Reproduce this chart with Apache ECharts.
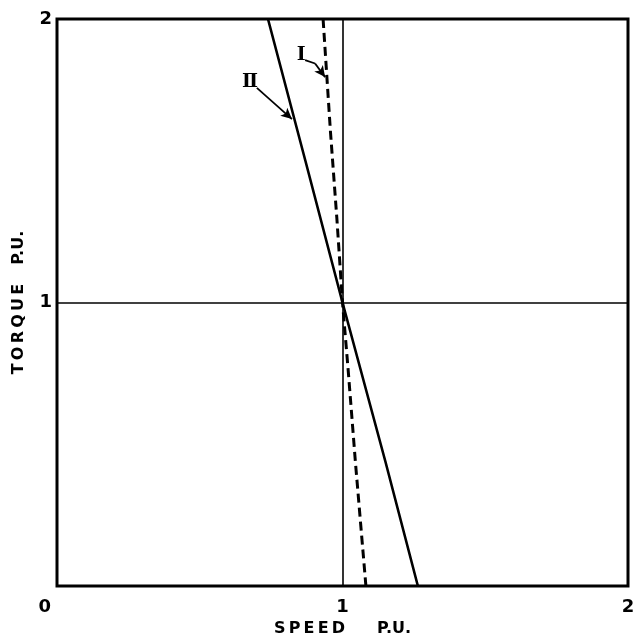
<!DOCTYPE html>
<html>
<head>
<meta charset="utf-8">
<script src="https://cdn.jsdelivr.net/npm/echarts@6/dist/echarts.min.js"></script>
<style>
  html, body { margin: 0; padding: 0; background: #fff; }
  #chart { width: 644px; height: 642px; }
</style>
</head>
<body>
<div id="chart"></div>
<script>
// Speed (p.u.) / torque (p.u.) characteristics
const curveISpeed  = [0.932, 0.958, 0.980, 1.000, 1.020, 1.045, 1.082];
const curveITorque = [2.0,   1.6,   1.3,   1.0,   0.76,  0.44,  0.0];
const curveIISpeed  = [0.739, 0.870, 1.000, 1.150, 1.264];
const curveIITorque = [2.0,   1.5,   1.0,   0.44,  0.0];

const xTickLabels = ['0', '1', '2'];
const yTickLabels = ['', '1', '2'];

// curve tags and their leader arrows (speed, torque)
const tagNames = ['Ⅰ', 'Ⅱ'];
const tagPos = [[0.855, 1.873], [0.676, 1.778]];
const arrowI  = [[0.869, 1.855], [0.904, 1.843], [0.939, 1.795]];
const arrowII = [[0.700, 1.757], [0.823, 1.647]];

const FONT = '"DejaVu Sans", sans-serif';
const zip = (xs, ys) => xs.map((x, i) => [x, ys[i]]);

const chart = echarts.init(document.getElementById('chart'), null, { renderer: 'canvas' });

function segs(pts) {
  const out = [];
  for (let i = 0; i < pts.length - 1; i++) {
    const last = i === pts.length - 2;
    out.push([
      { coord: pts[i], symbol: 'none' },
      { coord: pts[i + 1], symbol: last ? 'arrow' : 'none' }
    ]);
  }
  return out;
}

chart.setOption({
  animation: false,
  backgroundColor: '#fff',
  grid: {
    left: 57, right: 16, top: 19, bottom: 56,
    show: true, borderColor: '#000', borderWidth: 3, backgroundColor: 'transparent'
  },
  xAxis: {
    type: 'value', min: 0, max: 2, interval: 1,
    name: 'S\u2009P\u2009E\u2009E\u2009D\u2003\u2003P.U.',
    nameLocation: 'middle', nameGap: 34,
    nameTextStyle: { fontFamily: FONT, fontWeight: 'bold', fontSize: 16, color: '#000' },
    axisLine: { show: false },
    axisTick: { show: false },
    splitLine: { show: true, lineStyle: { color: '#000', width: 1.6 } },
    axisLabel: {
      margin: 12, color: '#000', fontFamily: FONT, fontWeight: 'bold', fontSize: 18,
      alignMinLabel: 'right',
      formatter: (v) => {
        const s = xTickLabels[Math.round(v)];
        return v === 0 ? '{z|' + s + '}' : s;
      },
      rich: { z: { fontFamily: FONT, fontWeight: 'bold', fontSize: 18, color: '#000', padding: [0, 6, 0, 0] } }
    }
  },
  yAxis: {
    type: 'value', min: 0, max: 2, interval: 1,
    name: 'T\u2009O\u2009R\u2009Q\u2009U\u2009E\u2003\u2009P.U.',
    nameLocation: 'middle', nameGap: 30,
    nameTextStyle: { fontFamily: FONT, fontWeight: 'bold', fontSize: 16, color: '#000' },
    axisLine: { show: false },
    axisTick: { show: false },
    splitLine: { show: true, lineStyle: { color: '#000', width: 1.6 } },
    axisLabel: {
      margin: 5, color: '#000', fontFamily: FONT, fontWeight: 'bold', fontSize: 18,
      formatter: (v) => yTickLabels[Math.round(v)]
    }
  },
  series: [
    {
      name: 'I', type: 'line', data: zip(curveISpeed, curveITorque),
      symbol: 'none', lineStyle: { color: '#000', width: 3, type: [9, 5] },
      markLine: {
        silent: true, symbolSize: [8, 11],
        lineStyle: { color: '#000', width: 1.8, type: 'solid' },
        label: { show: false },
        data: segs(arrowI)
      }
    },
    {
      name: 'II', type: 'line', data: zip(curveIISpeed, curveIITorque),
      symbol: 'none', lineStyle: { color: '#000', width: 2.6 },
      markLine: {
        silent: true, symbolSize: [8, 11],
        lineStyle: { color: '#000', width: 1.8, type: 'solid' },
        label: { show: false },
        data: segs(arrowII)
      }
    },
    {
      name: 'tags', type: 'scatter', symbolSize: 1,
      itemStyle: { color: 'transparent', opacity: 1 },
      data: tagPos.map((p, i) => ({ value: p, name: tagNames[i] })),
      label: {
        show: true, position: 'inside', formatter: '{b}', opacity: 1,
        fontFamily: '"DejaVu Serif", serif', fontWeight: 'bold', fontSize: 19, color: '#000',
        textBorderWidth: 0
      }
    }
  ]
});
</script>
</body>
</html>
